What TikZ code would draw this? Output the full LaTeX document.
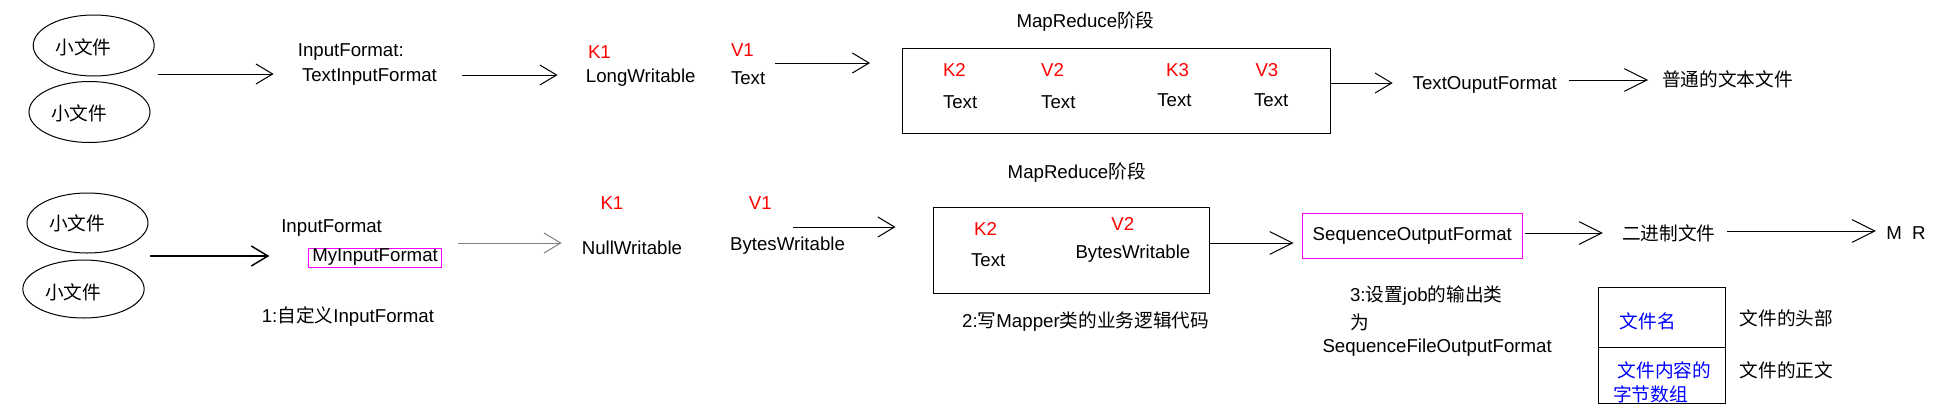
\documentclass[tikz,border=0pt]{standalone}
\usepackage{fontspec}
\setmainfont{Liberation Sans}
\newfontfamily\cjk{Noto Sans CJK SC}
\usetikzlibrary{arrows.meta,shapes.geometric}
\definecolor{kvred}{RGB}{255,0,0}
\definecolor{pinkbox}{RGB}{255,0,255}
\definecolor{bluetxt}{RGB}{0,0,255}
\definecolor{greyline}{RGB}{128,128,128}

\begin{document}
\begin{tikzpicture}[x=0.75pt,y=0.75pt,yscale=-1,xscale=1,
    line width=0.75pt,
    font=\fontsize{14pt}{16.5pt}\selectfont,
    txt/.style={anchor=west,inner sep=0.75pt},
    kv/.style={txt,text=kvred},
    file/.style={ellipse,draw,inner sep=0pt},
    flow/.style={-{Straight Barb[length=12.5pt,width=15pt]}},
    bigflow/.style={-{Straight Barb[length=17pt,width=17pt]}},
    stage/.style={draw,inner sep=0pt}]
\useasboundingbox (0,0) rectangle (1946,418);

% ---- first row: TextInputFormat ----
%Shape: Ellipse
\node [file,minimum width=90.75pt,minimum height=45.75pt] (file1) at (93.7,45.5) {};
\node [txt] (file1t) at (53.9,47) {\cjk 小文件};
%Shape: Ellipse
\node [file,minimum width=90.75pt,minimum height=45.75pt] (file2) at (89.5,112) {};
\node [txt] (file2t) at (49.7,113) {\cjk 小文件};
% Text Node
\node [txt] (inA) at (296.4,52) {InputFormat:};
\node [txt] (inB) at (300.5,77) {TextInputFormat};
% Text Node
\node [kv] (kA) at (586.5,52) {K1};
\node [txt] (kAt) at (584.4,78) {LongWritable};
\node [kv] (vA) at (729.5,50) {V1};
\node [txt] (vAt) at (729.5,78) {Text};
% Text Node
\node [txt] (mrA) at (1015,22) {MapReduce{\cjk 阶段}};
%Shape: Rectangle
\node [stage,minimum width=320.5pt,minimum height=63.75pt] (boxA) at (1116.4,90.5) {};
\node [kv] (kB) at (941.5,70) {K2};
\node [txt] (kBt) at (941.5,102) {Text};
\node [kv] (vB) at (1039.7,70) {V2};
\node [txt] (vBt) at (1039.7,102) {Text};
\node [kv] (kC) at (1164.7,70) {K3};
\node [txt] (kCt) at (1155.8,100) {Text};
\node [kv] (vC) at (1254,70) {V3};
\node [txt] (vCt) at (1252.6,100) {Text};
% Text Node
\node [txt] (outA) at (1411.2,85) {TextOuputFormat};
\node [txt] (plain) at (1660.5,79) {\cjk 普通的文本文件};

%Straight Lines
\coordinate (a1s) at (157.5,74);  \coordinate (a1e) at (273.6,74);
\coordinate (a2s) at (462,75);    \coordinate (a2e) at (557.5,75);
\coordinate (a3s) at (775.4,63);  \coordinate (a3e) at (870,63);
\coordinate (a4e) at (1392.7,83);
\coordinate (a5s) at (1568.6,80); \coordinate (a5e) at (1648.1,80);
\draw [flow] (a1s) -- (a1e);
\draw [flow] (a2s) -- (a2e);
\draw [flow] (a3s) -- (a3e);
\draw [flow] (boxA.east |- a4e) -- (a4e);
\draw [bigflow] (a5s) -- (a5e);

% ---- second row: SequenceFile ----
%Shape: Ellipse
\node [file,minimum width=90.75pt,minimum height=45pt] (file3) at (87.5,223) {};
\node [txt] (file3t) at (47.7,223) {\cjk 小文件};
%Shape: Ellipse
\node [file,minimum width=91pt,minimum height=43.5pt] (file4) at (83.5,289) {};
\node [txt] (file4t) at (43.5,292) {\cjk 小文件};
% Text Node
\node [txt] (inC) at (279.8,228) {InputFormat};
\node [draw=pinkbox,inner sep=0pt,minimum width=99.5pt,minimum height=14.25pt] (myIn) at (375.1,257.5) {MyInputFormat};
\node [txt] (note1) at (260.3,317) {1:{\cjk 自定义}InputFormat};
% Text Node
\node [kv] (kD) at (599,203) {K1};
\node [txt] (kDt) at (580.3,248) {NullWritable};
\node [kv] (vD) at (747.3,203) {V1};
\node [txt] (vDt) at (728.6,246) {BytesWritable};
% Text Node
\node [txt] (mrB) at (1006.2,173) {MapReduce{\cjk 阶段}};
%Shape: Rectangle
\node [stage,minimum width=206.5pt,minimum height=64.5pt] (boxB) at (1071.6,250) {};
\node [kv] (kE) at (972.7,229) {K2};
\node [txt] (kEt) at (969.6,260) {Text};
\node [kv] (vE) at (1109.8,224) {V2};
\node [txt] (vEt) at (1074,254) {BytesWritable};
\node [txt] (note2) at (960.7,322) {2:{\cjk 写}Mapper{\cjk 类的业务逻辑代码}};
% Text Node
\node [draw=pinkbox,inner sep=0pt,minimum width=164.8pt,minimum height=33.75pt] (seqOut) at (1412.3,235.5) {SequenceOutputFormat};
\node [txt] (bin) at (1620.7,233) {\cjk 二进制文件};
\node [txt] (mrC) at (1884.8,233) {M\ \ R};
\node [txt] (note3a) at (1348.5,296) {3:{\cjk 设置}job{\cjk 的输出类}};
\node [txt] (note3b) at (1348.5,322) {\cjk 为};
\node [txt] (note3c) at (1321,348) {SequenceFileOutputFormat};
%Shape: Rectangle
\node [stage,minimum width=95.5pt,minimum height=45pt] (head) at (1662.2,317) {};
\node [stage,minimum width=95.5pt,minimum height=42pt] (body) at (1662.2,375) {};
\node [txt,text=bluetxt] (headt) at (1618.4,321) {\cjk 文件名};
\node [txt,text=bluetxt] (bodyt1) at (1616.2,370) {\cjk 文件内容的};
\node [txt,text=bluetxt] (bodyt2) at (1611.8,394) {\cjk 字节数组};
\node [txt] (headl) at (1738.3,318) {\cjk 文件的头部};
\node [txt] (bodyl) at (1738.3,370) {\cjk 文件的正文};

%Straight Lines
\coordinate (a6s) at (150,256);     \coordinate (a6e) at (269.4,256);
\coordinate (a7s) at (458,243);     \coordinate (a7e) at (561.6,243);
\coordinate (a8s) at (792.8,227);   \coordinate (a8e) at (895.5,227);
\coordinate (a9e) at (1293.5,243);
\coordinate (a10s) at (1525.2,233); \coordinate (a10e) at (1602.9,233);
\coordinate (a11s) at (1727.2,231); \coordinate (a11e) at (1875.9,231);
\draw [flow,line width=1.1pt] (a6s) -- (a6e);
\draw [flow,color=greyline] (a7s) -- (a7e);
\draw [flow] (a8s) -- (a8e);
\draw [bigflow] (boxB.east |- a9e) -- (a9e);
\draw [bigflow] (a10s) -- (a10e);
\draw [bigflow] (a11s) -- (a11e);
\end{tikzpicture}
\end{document}
